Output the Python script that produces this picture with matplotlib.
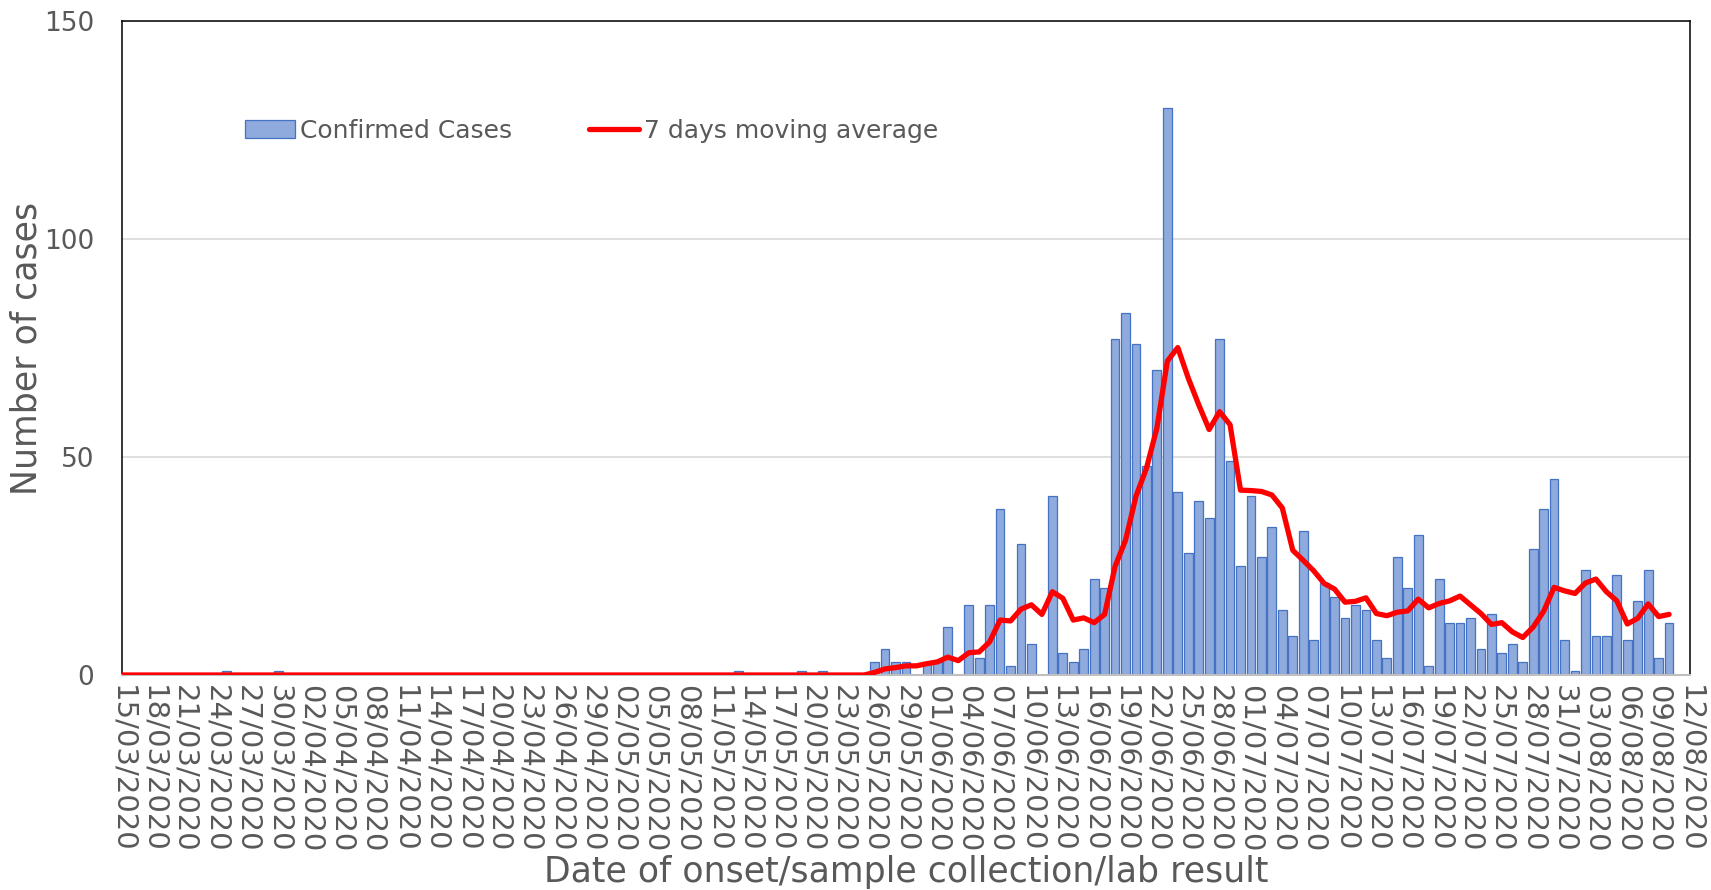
import numpy as np
import pandas as pd
import matplotlib
matplotlib.use("Agg")
import matplotlib.pyplot as plt

# x axis categories: one per day, labelled every 3rd day
first_day = "2020-03-15"
last_day = "2020-08-12"

# a few isolated cases before the outbreak
early_cases = {"2020-03-25": 1, "2020-03-30": 1, "2020-05-13": 1,
               "2020-05-19": 1, "2020-05-21": 1}

# daily confirmed cases from 26/05/2020 to 10/08/2020
cases_start = "2020-05-26"
cases = [3, 6, 3, 3, 0, 3, 3, 11, 0, 16, 4, 16, 38, 2, 30, 7, 0, 41, 5, 3,
         6, 22, 20, 77, 83, 76, 48, 70, 130, 42, 28, 40, 36, 77, 49, 25, 41, 27,
         34, 15, 9, 33, 8, 21, 18, 13, 16, 15, 8, 4, 27, 20, 32, 2, 22, 12, 12,
         13, 6, 14, 5, 7, 3, 29, 38, 45, 8, 1, 24, 9, 9, 23, 8, 17, 24, 4, 12]

# 7 days moving average (red line), read from 26/05/2020, flat at 0 before
moving_avg = [0.6, 1.4, 1.7, 2.1, 2.1, 2.6, 3.0, 4.1, 3.3, 5.1, 5.3, 7.6, 12.6,
              12.4, 15.1, 16.1, 13.9, 19.1, 17.6, 12.6, 13.1, 12.0, 13.9, 24.9,
              30.9, 41.0, 47.4, 56.6, 72.0, 75.1, 68.1, 62.0, 56.3, 60.4, 57.4,
              42.4, 42.3, 42.1, 41.3, 38.3, 28.6, 26.3, 23.9, 21.0, 19.7, 16.7,
              16.9, 17.7, 14.1, 13.6, 14.4, 14.7, 17.4, 15.4, 16.4, 17.0, 18.1,
              16.1, 14.1, 11.6, 12.0, 9.9, 8.6, 11.0, 14.6, 20.1, 19.3, 18.7,
              21.1, 22.0, 19.1, 17.0, 11.7, 13.0, 16.3, 13.4, 13.9]

days = pd.date_range(first_day, last_day, freq="D")
n_data = len(cases) + (pd.Timestamp(cases_start) - pd.Timestamp(first_day)).days
data_days = pd.date_range(first_day, periods=n_data)

cases_s = pd.Series(cases, index=pd.date_range(cases_start, periods=len(cases)))
for d, v in early_cases.items():
    cases_s[pd.Timestamp(d)] = v
cases_s = cases_s.sort_index().reindex(data_days, fill_value=0)

ma_s = pd.Series(moving_avg, index=pd.date_range(cases_start, periods=len(moving_avg)))
ma_s = ma_s.reindex(data_days, fill_value=0)

x = np.array([(d - days[0]).days for d in data_days])

grey = "#595959"
fig = plt.figure(figsize=(17.11, 8.90), dpi=100)
ax = fig.add_axes([122 / 1711, 215 / 890, 1568 / 1711, 654 / 890])

bars = ax.bar(x, cases_s.values, width=0.84, color="#8FAADC", edgecolor="#4472C4",
              linewidth=0.9, zorder=2, label="Confirmed Cases")
line, = ax.plot(x, ma_s.values, color="#FF0000", linewidth=3.8, zorder=3,
                solid_joinstyle="round", solid_capstyle="round",
                label="7 days moving average")

ax.set_xlim(0, len(days) - 1)
ax.set_ylim(0, 150)
ax.set_yticks([0, 50, 100, 150])
tick_pos = np.arange(0, len(days), 3)
ax.set_xticks(tick_pos)
ax.set_xticklabels([days[i].strftime("%d/%m/%Y") for i in tick_pos], rotation=270,
                   ha="center", va="top")
ax.tick_params(axis="x", length=0, pad=7, labelsize=21, labelcolor=grey)
ax.tick_params(axis="y", length=0, pad=20, labelsize=19, labelcolor=grey)
ax.yaxis.grid(True, color="#D9D9D9", linewidth=1.2, zorder=0)
ax.set_axisbelow(True)

for side in ["top", "left", "right"]:
    ax.spines[side].set_color("black")
    ax.spines[side].set_linewidth(1.1)
ax.spines["bottom"].set_color("#BFBFBF")
ax.spines["bottom"].set_linewidth(1.5)

ax.set_xlabel("Date of onset/sample collection/lab result", fontsize=25, color=grey,
              labelpad=2)
ax.set_ylabel("Number of cases", fontsize=25, color=grey, labelpad=0)

ax.legend([bars, line], ["Confirmed Cases", "7 days moving average"],
          loc="center left", bbox_to_anchor=(0.064, 0.832), ncol=2, frameon=False,
          fontsize=18, labelcolor=grey, handlelength=2.0, handleheight=0.7,
          handletextpad=0.2, columnspacing=3.1)

fig.savefig("out.png", dpi=100)
